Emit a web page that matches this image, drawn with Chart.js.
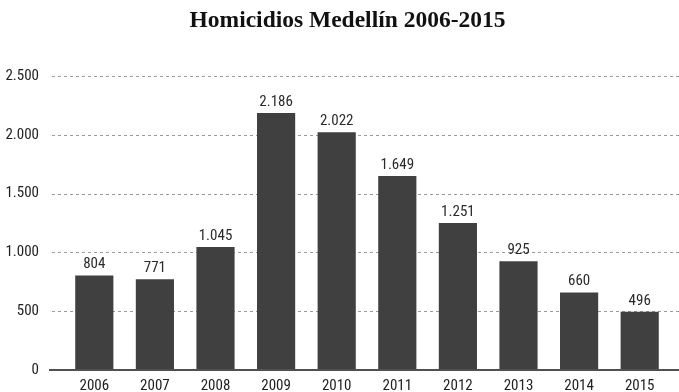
<!DOCTYPE html>
<html>
<head>
<meta charset="utf-8">
<script src="https://cdn.jsdelivr.net/npm/chart.js@4/dist/chart.umd.min.js"></script>
<style>
  html, body { margin: 0; padding: 0; background: #ffffff; overflow: hidden; }
  canvas { display: block; }
</style>
</head>
<body>
<canvas id="chart" width="679" height="392"></canvas>
<script>
// Homicidios por año en Medellín
const years = ['2006', '2007', '2008', '2009', '2010', '2011', '2012', '2013', '2014', '2015'];
const homicidios = [804, 771, 1045, 2186, 2022, 1649, 1251, 925, 660, 496];
const yTicks = [0, 500, 1000, 1500, 2000, 2500];
const titleText = 'Homicidios Medellín 2006-2015';

const LABEL_FONT = '"Liberation Sans Narrow", "Arial Narrow", "Roboto Condensed", "Liberation Sans", sans-serif';
const fmt = v => v.toLocaleString('de-DE');

// Líneas punteadas de la cuadrícula, línea base y título
const decorations = {
  id: 'decorations',
  beforeDatasetsDraw(chart) {
    const { ctx, scales: { y } } = chart;
    ctx.save();
    ctx.strokeStyle = '#9a9a9a';
    ctx.lineWidth = 1;
    ctx.setLineDash([3, 3]);
    yTicks.forEach(t => {
      if (t === 0) return;
      const py = Math.round(y.getPixelForValue(t)) + 0.5;
      ctx.beginPath();
      ctx.moveTo(52, py);
      ctx.lineTo(679, py);
      ctx.stroke();
    });
    ctx.restore();
  },
  afterDatasetsDraw(chart) {
    const { ctx, scales: { y } } = chart;
    ctx.save();
    const py = y.getPixelForValue(0);
    ctx.strokeStyle = '#505050';
    ctx.lineWidth = 2;
    ctx.beginPath();
    ctx.moveTo(49, py);
    ctx.lineTo(679, py);
    ctx.stroke();

    // valores sobre las barras
    ctx.fillStyle = '#2a2a2a';
    ctx.font = '15px ' + LABEL_FONT;
    ctx.textAlign = 'center';
    ctx.textBaseline = 'alphabetic';
    const meta = chart.getDatasetMeta(0);
    meta.data.forEach((bar, i) => {
      ctx.fillText(fmt(homicidios[i]), bar.x, bar.y - 7);
    });

    // título
    ctx.fillStyle = '#111111';
    ctx.font = 'bold 23.5px "Liberation Serif", "DejaVu Serif", serif';
    ctx.textBaseline = 'middle';
    ctx.fillText(titleText, 347.5, 21);
    ctx.restore();
  }
};

new Chart(document.getElementById('chart'), {
  type: 'bar',
  data: {
    labels: years,
    datasets: [{
      data: homicidios,
      backgroundColor: '#404040',
      borderWidth: 0,
      categoryPercentage: 1,
      barPercentage: 0.63
    }]
  },
  options: {
    responsive: false,
    animation: false,
    layout: { padding: { top: 76, right: 9, bottom: 0, left: 0 } },
    plugins: {
      legend: { display: false },
      title: { display: false },
      tooltip: { enabled: false }
    },
    scales: {
      x: {
        grid: { display: false, drawTicks: false },
        border: { display: false },
        ticks: {
          color: '#222222',
          font: { family: LABEL_FONT, size: 15 },
          padding: 7,
          maxRotation: 0
        },
        afterFit(scale) { scale.height = 22; }
      },
      y: {
        min: 0,
        max: 2500,
        grid: { display: false, drawTicks: false },
        border: { display: false },
        afterBuildTicks(scale) { scale.ticks = yTicks.map(v => ({ value: v })); },
        ticks: {
          color: '#222222',
          font: { family: LABEL_FONT, size: 15 },
          padding: 25,
          callback: v => fmt(v)
        },
        afterFit(scale) {
          scale.width = 64;
          scale.paddingTop = 0;
          scale.paddingBottom = 0;
        }
      }
    }
  },
  plugins: [decorations]
});
</script>
</body>
</html>
